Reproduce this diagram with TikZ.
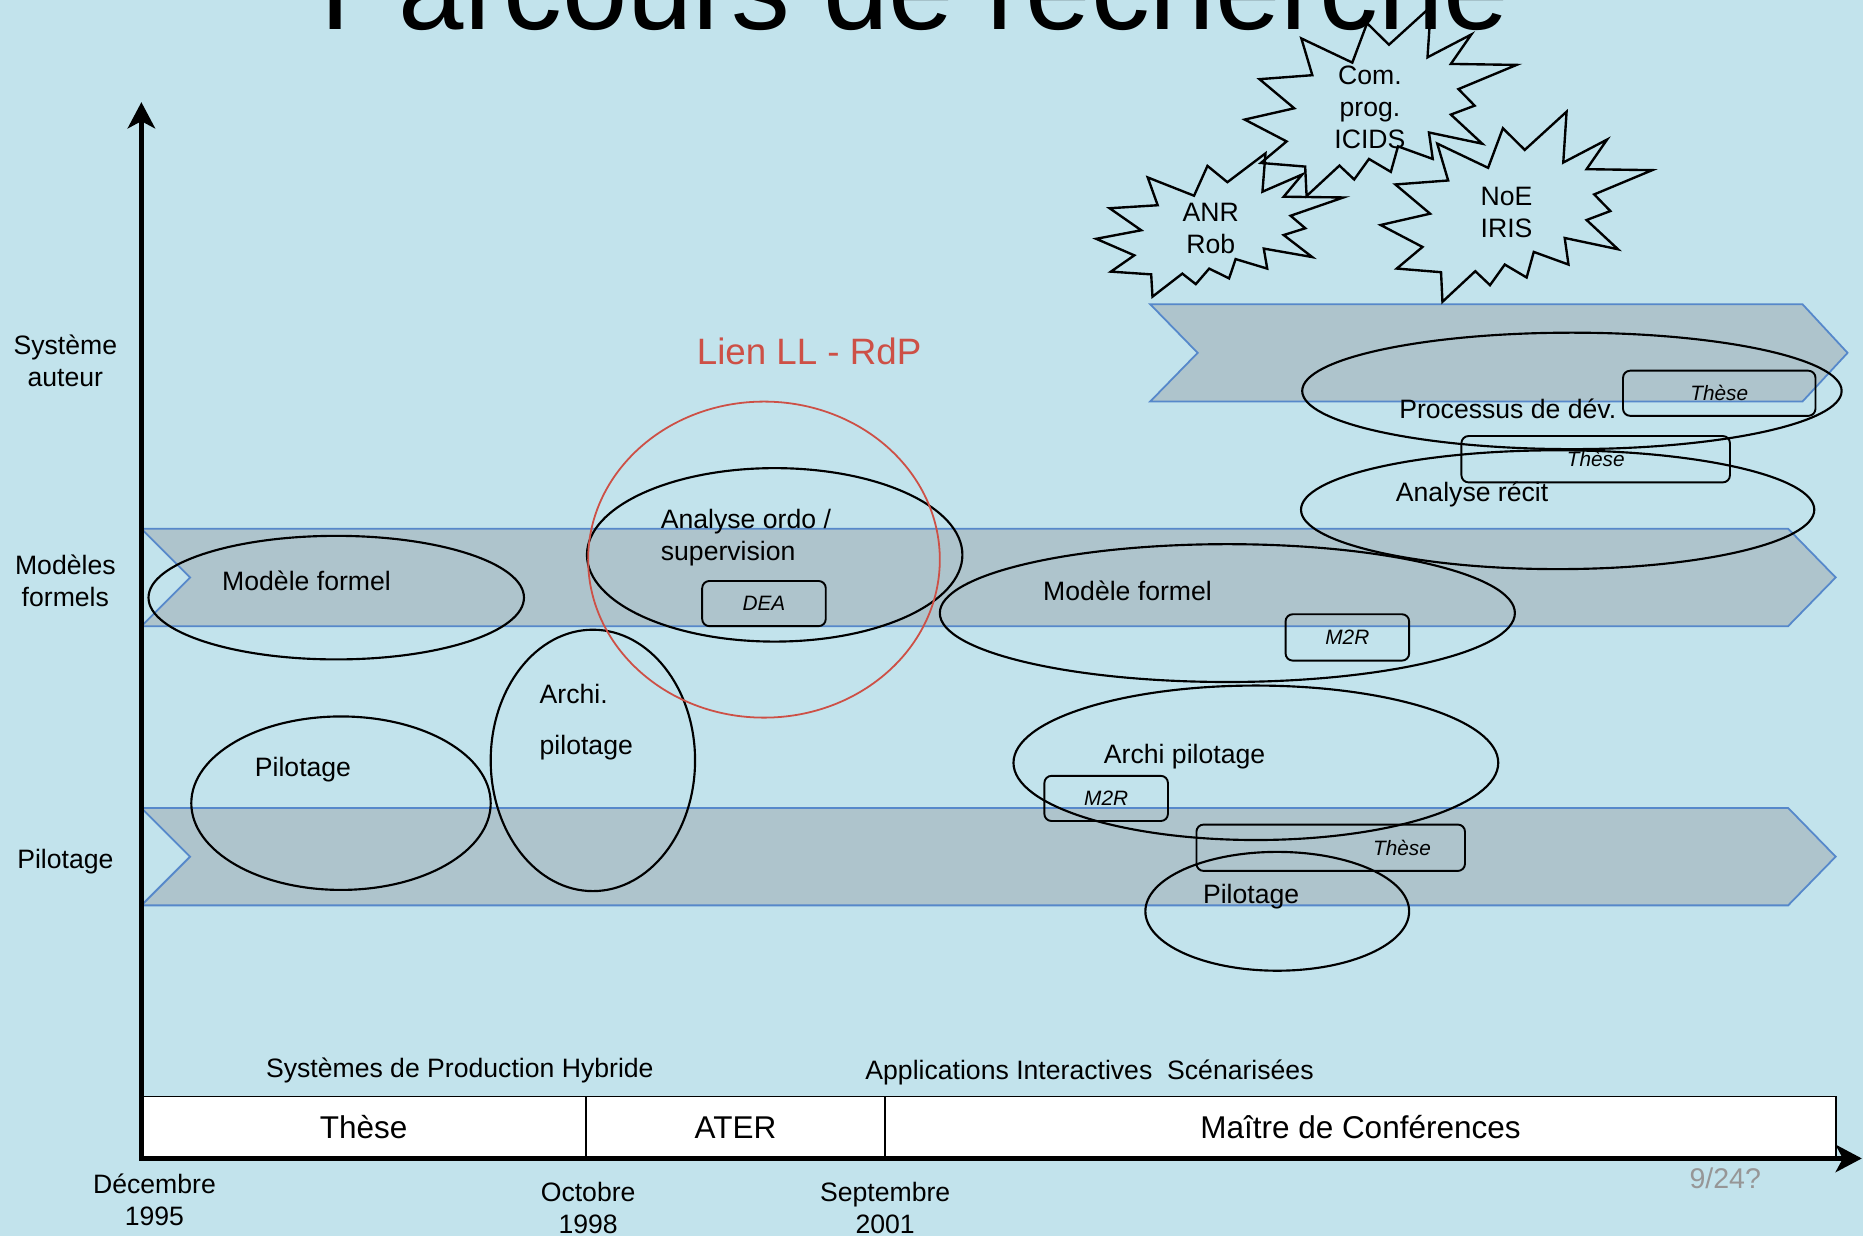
\documentclass[tikz,border=0pt]{standalone}
\usepackage{fontspec}
\setmainfont{Liberation Sans}
\usetikzlibrary{shapes.geometric,arrows.meta}
\definecolor{bg}{RGB}{194,227,236}
\definecolor{bandfill}{RGB}{174,196,204}
\definecolor{bandline}{RGB}{86,136,202}
\definecolor{lienred}{RGB}{205,80,70}
\definecolor{pagegray}{RGB}{150,150,150}
\tikzset{
  seal/.pic={\draw[sealline] (11.462,4.342) -- (14.790,0) -- (14.525,5.777) -- (18.007,3.172) -- (16.380,6.532) -- (21.600,6.645) -- (16.985,9.402) -- (18.270,11.290) -- (16.380,12.310) -- (18.877,15.632) -- (14.640,14.350) -- (14.942,17.370) -- (12.180,15.935) -- (11.612,18.842) -- (9.872,17.370) -- (8.700,19.712) -- (7.527,18.125) -- (4.917,21.600) -- (4.805,18.240) -- (1.285,17.825) -- (3.330,15.370) -- (0,12.877) -- (3.935,11.592) -- (1.172,8.270) -- (5.372,7.817) -- (4.502,3.625) -- (8.550,6.382) -- (9.722,1.887) -- cycle;}
}
\begin{document}
\begin{tikzpicture}[x=1pt,y=-1pt,
  sealline/.style={draw=black, line width=2pt, line join=miter},
  band/.style={fill=bandfill, draw=bandline, line width=1.5pt, line join=miter},
  oval/.style={ellipse, draw=black, line width=1.8pt, inner sep=0pt},
  tagbox/.style={rectangle, rounded corners=6pt, draw=black, line width=1.6pt, inner sep=0pt, font=\fontsize{17.5}{21}\selectfont\itshape},
  tagtxt/.style={inner sep=0pt, font=\fontsize{17.5}{21}\selectfont\itshape},
  txt/.style={inner sep=0pt, align=center, font=\fontsize{22.4}{27}\selectfont},
  txtl/.style={inner sep=0pt, align=left, font=\fontsize{22.4}{27}\selectfont},
  period/.style={rectangle, draw=black, line width=1.4pt, fill=white, inner sep=0pt, minimum height=52pt, font=\fontsize{26.5}{31}\selectfont},
  axis/.style={line width=4pt, -{Stealth[length=22pt,width=23pt,inset=6pt]}}
]
\path[use as bounding box, fill=bg] (0,0) rectangle (1568,1040);

% bands
\draw[band] (968,256) -- (1517,256) -- (1555,297) -- (1517,338) -- (968,338) -- (1008,297) -- cycle;
\draw[band] (119,445) -- (1505,445) -- (1545,486) -- (1505,527) -- (119,527) -- (160,486) -- cycle;
\draw[band] (119,680) -- (1505,680) -- (1545,721) -- (1505,762) -- (119,762) -- (160,721) -- cycle;

% ellipses
\node[oval, minimum width=316pt, minimum height=104pt] (e1) at (283,503) {};
\node[oval, minimum width=252pt, minimum height=146pt] (e2) at (287,676) {};
\node[oval, minimum width=172pt, minimum height=220pt] (e3) at (499,640) {};
\node[oval, minimum width=316pt, minimum height=146pt] (e4) at (652,467) {};
\node[ellipse, draw=lienred, line width=1.5pt, inner sep=0pt, minimum width=296pt, minimum height=266pt] (red) at (643,471) {};
\node[oval, minimum width=484pt, minimum height=116pt] (e5) at (1033,516) {};
\node[oval, minimum width=408pt, minimum height=130pt] (e6) at (1057,642) {};
\node[oval, minimum width=222pt, minimum height=100pt] (e7) at (1075,767) {};
\node[oval, minimum width=454pt, minimum height=98pt] (e8) at (1323,329) {};
\node[oval, minimum width=432pt, minimum height=100pt] (e9) at (1311,429) {};

% tag boxes
\node[tagbox, minimum width=104pt, minimum height=38pt] (dea) at (643,508) {DEA};
\node[tagbox, minimum width=104pt, minimum height=39pt] (m2ra) at (1134,536.5) {M2R};
\node[tagbox, minimum width=104pt, minimum height=38pt] (m2rb) at (931,672) {M2R};
\node[tagbox, minimum width=162pt, minimum height=38pt] (thA) at (1447,331) {Thèse};
\node[tagbox, minimum width=226pt, minimum height=39pt] (thB) at (1343,386.5) {Thèse};
\node[tagbox, minimum width=226pt, minimum height=39pt] (thC) at (1120,713.5) {};
\node[tagtxt] (thCt) at (1180,714) {Thèse};

% texts in ellipses
\node[txt] (tmf1) at (258,489) {Modèle formel};
\node[txt] (tpil1) at (255,648) {Pilotage};
\node[txtl, anchor=west] (tarchi1) at (454,584) {Archi.};
\node[txtl, anchor=west] (tarchi2) at (454,629) {pilotage};
\node[txtl, anchor=west] (tana1) at (556,439) {Analyse ordo /};
\node[txtl, anchor=west] (tana2) at (556,466) {supervision};
\node[txt] (tmf2) at (949,497) {Modèle formel};
\node[txt] (tarchi3) at (997,637) {Archi pilotage};
\node[txt] (tpil2) at (1053,755) {Pilotage};
\node[txt] (tproc) at (1269,344) {Processus de dév.};
\node[txt] (tanar) at (1239,416) {Analyse récit};
\node[inner sep=0pt, text=lienred, font=\fontsize{30.9}{36}\selectfont] (lien) at (681,296) {Lien LL - RdP};

% left labels
\node[txt] (lsys) at (55,303.5) {Système\\auteur};
\node[txt] (lmod) at (55,488.5) {Modèles\\formels};
\node[txt] (lpil) at (55,725) {Pilotage};

% timeline
\node[period, minimum width=374pt] (pthese) at (306,949) {Thèse};
\node[period, minimum width=252pt] (pater) at (619,949) {ATER};
\node[period, minimum width=800pt] (pmcf) at (1145,949) {Maître de Conférences};
\node[txt] (sph) at (387,901) {Systèmes de Production Hybride};
\node[txt] (ais) at (917,903) {Applications Interactives~~Scénarisées};
\node[txt] (d1) at (130,1009.5) {Décembre\\1995};
\node[txt] (d2) at (495,1017) {Octobre\\1998};
\node[txt] (d3) at (745,1017) {Septembre\\2001};
\node[inner sep=0pt, text=pagegray, font=\fontsize{24}{28}\selectfont] (pg) at (1452,992) {9/24?};

% axes
\coordinate (O) at (119,977);
\coordinate (Ytip) at (119,86);
\coordinate (Xtip) at (1567,975);
\draw[axis] (O) -- (Ytip);
\draw[axis] ([xshift=-2pt]O |- Xtip) -- (Xtip);

% explosions
\pic[shift={(922.6,129.1)}, xscale=9.634, yscale=5.583] {seal};
\pic[shift={(1047.6,5.6)}, xscale=10.593, yscale=7.380] {seal};
\pic[shift={(1162,94)}, xscale=10.583, yscale=7.407] {seal};
\node[txt] (sanr) at (1019,192.5) {ANR\\Rob};
\node[txt] (sicids) at (1153,90) {Com.\\prog.\\ICIDS};
\node[txt] (snoe) at (1268,178.5) {NoE\\IRIS};

% title
\node[inner sep=0pt, anchor=base, font=\fontsize{98.9}{110}\selectfont] (title) at (770,25) {Parcours de recherche};
\end{tikzpicture}
\end{document}
